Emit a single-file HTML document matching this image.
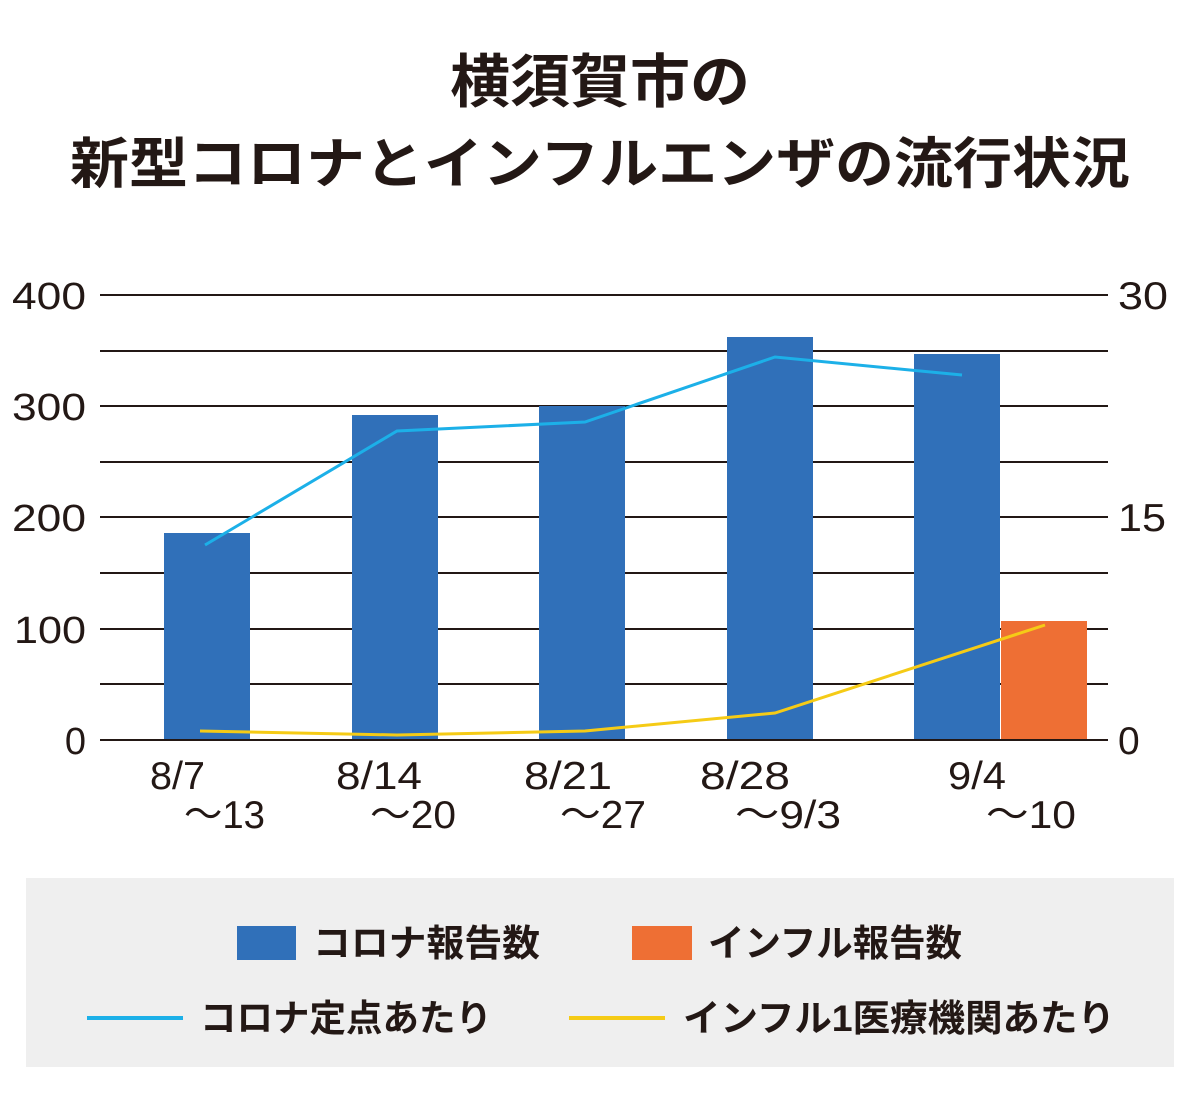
<!DOCTYPE html>
<html><head><meta charset="utf-8"><style>
body{margin:0;background:#fff;width:1200px;height:1094px;overflow:hidden;font-family:"Liberation Sans","Noto Sans CJK JP",sans-serif;}
</style></head><body>
<svg width="1200" height="1094" xmlns="http://www.w3.org/2000/svg" font-family="Liberation Sans, Noto Sans CJK JP, sans-serif">
<text x="600" y="102" text-anchor="middle" font-size="58" font-weight="bold" fill="#231815" textLength="300" lengthAdjust="spacingAndGlyphs">横須賀市の</text>
<text x="600" y="183" text-anchor="middle" font-size="55" font-weight="bold" fill="#231815" textLength="1060" lengthAdjust="spacingAndGlyphs">新型コロナとインフルエンザの流行状況</text>
<g stroke="#231815" stroke-width="2">
<line x1="100" y1="295" x2="1108" y2="295"/><line x1="100" y1="351" x2="1108" y2="351"/>
<line x1="100" y1="406" x2="1108" y2="406"/><line x1="100" y1="462" x2="1108" y2="462"/>
<line x1="100" y1="517" x2="1108" y2="517"/><line x1="100" y1="573" x2="1108" y2="573"/>
<line x1="100" y1="629" x2="1108" y2="629"/><line x1="100" y1="684" x2="1108" y2="684"/>
</g>
<g fill="#3070b9">
<rect x="164" y="533" width="86" height="207"/><rect x="352" y="415" width="86" height="325"/>
<rect x="539" y="406" width="86" height="334"/><rect x="727" y="337" width="86" height="403"/>
<rect x="914" y="354" width="86" height="386"/>
</g>
<rect x="1001" y="621" width="86" height="119" fill="#ee6f34"/>
<line x1="100" y1="740" x2="1108" y2="740" stroke="#231815" stroke-width="2"/>
<polyline points="205,545 397,431 585,422 775,357 962,375" fill="none" stroke="#1cb0e8" stroke-width="3"/>
<polyline points="200,731 397,735 585,731 775,713 1045,625" fill="none" stroke="#f5cb16" stroke-width="3"/>
<g font-size="38" fill="#231815" text-anchor="end">
<text x="86" y="309" textLength="74" lengthAdjust="spacingAndGlyphs">400</text><text x="86" y="420" textLength="74" lengthAdjust="spacingAndGlyphs">300</text><text x="86" y="531" textLength="74" lengthAdjust="spacingAndGlyphs">200</text><text x="86" y="643" textLength="72" lengthAdjust="spacingAndGlyphs">100</text><text x="86" y="754">0</text>
</g>
<g font-size="39" fill="#231815">
<text x="1118" y="309" textLength="50" lengthAdjust="spacingAndGlyphs">30</text><text x="1118" y="531" textLength="48" lengthAdjust="spacingAndGlyphs">15</text><text x="1118" y="754">0</text>
<text x="150" y="789" textLength="55" lengthAdjust="spacingAndGlyphs">8/7</text><text x="184" y="828" textLength="81" lengthAdjust="spacingAndGlyphs">〜13</text>
<text x="336" y="789" textLength="86" lengthAdjust="spacingAndGlyphs">8/14</text><text x="370" y="828" textLength="86" lengthAdjust="spacingAndGlyphs">〜20</text>
<text x="524" y="789" textLength="88" lengthAdjust="spacingAndGlyphs">8/21</text><text x="560" y="828" textLength="86" lengthAdjust="spacingAndGlyphs">〜27</text>
<text x="700" y="789" textLength="90" lengthAdjust="spacingAndGlyphs">8/28</text><text x="735" y="828" textLength="106" lengthAdjust="spacingAndGlyphs">〜9/3</text>
<text x="948" y="789" textLength="58" lengthAdjust="spacingAndGlyphs">9/4</text><text x="986" y="828" textLength="90" lengthAdjust="spacingAndGlyphs">〜10</text>
</g>
<rect x="26" y="878" width="1148" height="189" fill="#efefef"/>
<rect x="237" y="926" width="59" height="34" fill="#3070b9"/>
<rect x="632" y="926" width="60" height="34" fill="#ee6f34"/>
<line x1="87" y1="1018" x2="183" y2="1018" stroke="#1cb0e8" stroke-width="4"/>
<line x1="569" y1="1018" x2="665" y2="1018" stroke="#f5cb16" stroke-width="4"/>
<g font-size="37" font-weight="bold" fill="#231815">
<text x="313" y="956" textLength="227" lengthAdjust="spacingAndGlyphs">コロナ報告数</text>
<text x="708" y="956" textLength="254" lengthAdjust="spacingAndGlyphs">インフル報告数</text>
<text x="200" y="1031" textLength="292" lengthAdjust="spacingAndGlyphs">コロナ定点あたり</text>
<text x="683" y="1031" textLength="432" lengthAdjust="spacingAndGlyphs">インフル1医療機関あたり</text>
</g>
</svg>
</body></html>
